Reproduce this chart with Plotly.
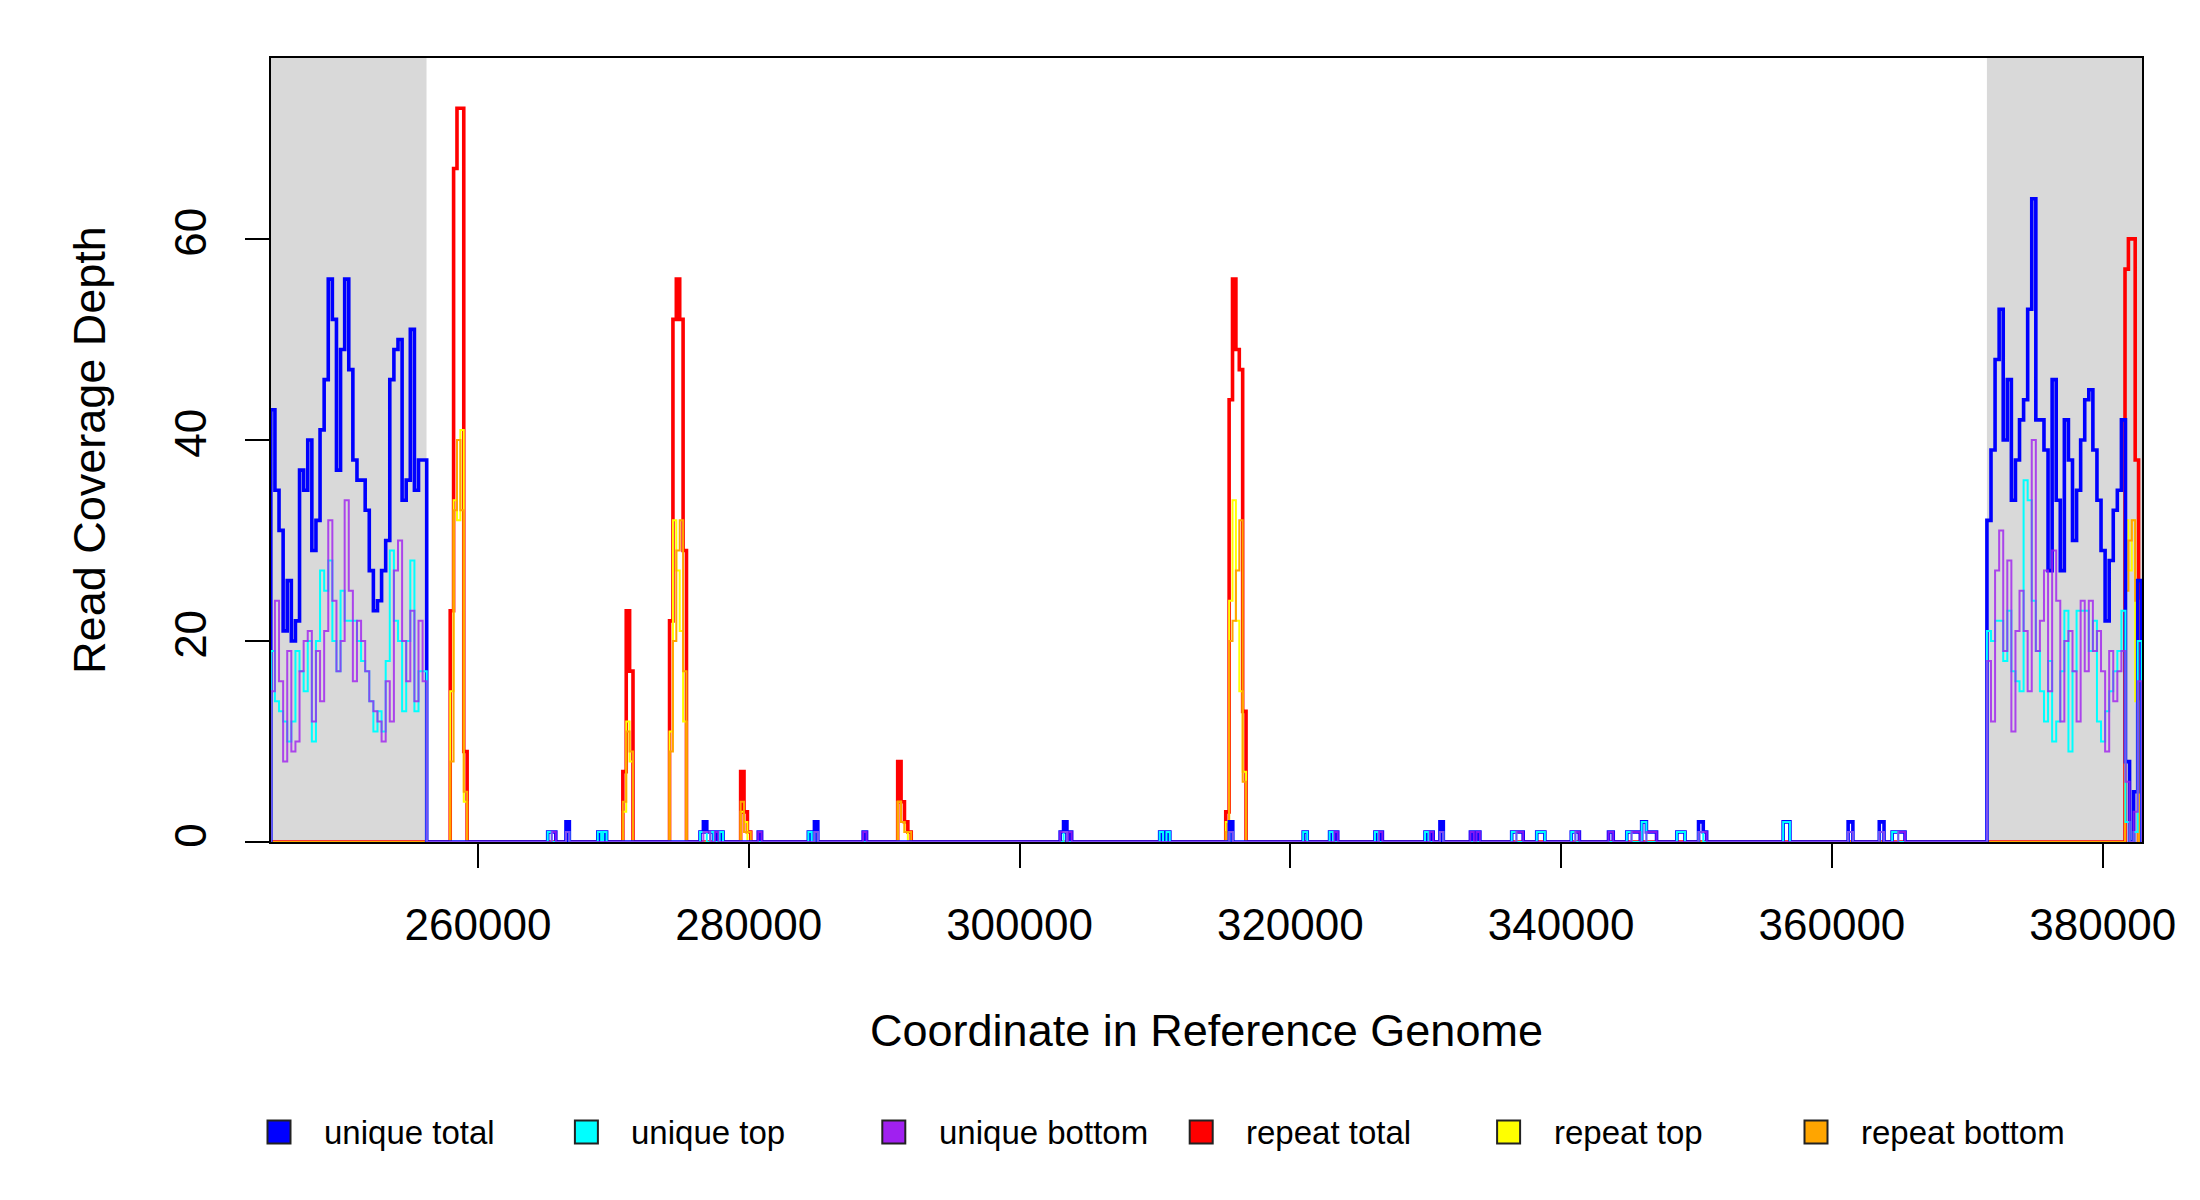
import plotly.graph_objects as go

# flanking regions (shaded), coverage on a fixed grid of bins
LEFT_START, LEFT_BIN = 244700, 303
RIGHT_START, RIGHT_BIN = 371450, 301
X_RANGE = [244713, 382904]
SHADED = [(244700, 256200), (371450, 382904)]

left_unique_total = [43, 35, 31, 21, 26, 20, 22, 37, 35, 40, 29, 32, 41, 46, 56, 52, 37, 49, 56, 47,
                     38, 36, 36, 33, 27, 23, 24, 27, 30, 46, 49, 50, 34, 36, 51, 35, 38, 38]
left_unique_top = [19, 14, 13, 12, 10, 12, 19, 17, 15, 20, 10, 20, 27, 25, 28, 20, 17, 25, 22, 22,
                   22, 20, 18, 17, 14, 11, 13, 11, 18, 29, 22, 20, 13, 20, 28, 13, 17, 17]
left_unique_bottom = [15, 24, 16, 8, 19, 9, 10, 17, 20, 21, 12, 19, 14, 21, 32, 24, 17, 20, 34, 25,
                      16, 22, 20, 17, 14, 13, 12, 10, 16, 12, 27, 30, 20, 16, 23, 14, 22, 16]

right_unique_total = [32, 39, 48, 53, 40, 46, 34, 38, 42, 44, 53, 64, 42, 42, 39, 27, 46, 34, 27, 42,
                      38, 30, 35, 40, 44, 45, 39, 34, 29, 22, 28, 33, 35, 42, 8, 0, 5, 26]
right_unique_top = [21, 20, 22, 22, 18, 23, 17, 16, 15, 36, 34, 24, 19, 15, 12, 18, 10, 12, 17, 23,
                    9, 17, 23, 23, 23, 19, 22, 12, 10, 13, 15, 17, 19, 23, 2, 0, 1, 20]
right_unique_bottom = [18, 12, 27, 31, 19, 28, 11, 21, 25, 21, 15, 40, 19, 22, 27, 15, 29, 24, 12, 20,
                       21, 17, 12, 24, 17, 24, 19, 21, 17, 9, 19, 14, 17, 19, 6, 0, 3, 16]

# repeat coverage peaks: (start, end) span split into equal bins
repeat_spans = [(257950, 259200), (270700, 271450), (274150, 275400), (279400, 280150),
                (291000, 292000), (315230, 316730), (381650, 382650)]
repeat_total = [[23, 67, 73, 73, 9], [7, 23, 17], [22, 52, 56, 52, 29], [7, 3, 1],
                [8, 4, 2, 1], [3, 44, 56, 49, 47, 13], [57, 60, 60, 38]]
repeat_top = [[15, 34, 32, 41, 4], [3, 12, 8], [11, 32, 27, 21, 12], [3, 2, 0],
              [4, 2, 1, 0], [2, 24, 34, 22, 15, 7], [32, 27, 32, 14]]
repeat_bottom = [[8, 33, 40, 33, 5], [4, 11, 9], [9, 20, 29, 32, 17], [4, 1, 1],
                 [4, 2, 1, 1], [1, 20, 22, 27, 32, 6], [25, 30, 32, 24]]

# sparse unique reads between the flanks: (start, end, total, top, bottom)
mid_unique = [
    (265150, 265450, 1, 1, 0), (265450, 265750, 1, 0, 1), (266500, 266750, 2, 1, 1),
    (268850, 269100, 1, 1, 0), (269250, 269500, 1, 1, 0),
    (276400, 276650, 1, 1, 0), (276650, 276900, 2, 1, 1), (276900, 277150, 1, 0, 1),
    (277150, 277400, 1, 1, 0), (277500, 277750, 1, 0, 1), (277850, 278100, 1, 1, 0),
    (280700, 280950, 1, 0, 1), (284400, 284650, 1, 1, 0), (284850, 285100, 2, 1, 1),
    (288450, 288700, 1, 0, 1),
    (303000, 303250, 1, 0, 1), (303250, 303500, 2, 1, 1), (303600, 303850, 1, 0, 1),
    (310350, 310600, 1, 1, 0), (310850, 311100, 1, 1, 0), (315500, 315750, 2, 1, 1),
    (320950, 321250, 1, 1, 0), (322900, 323150, 1, 1, 0), (323250, 323500, 1, 0, 1),
    (326250, 326500, 1, 1, 0), (326550, 326800, 1, 0, 1),
    (329950, 330200, 1, 1, 0), (330300, 330550, 1, 0, 1), (331050, 331300, 2, 1, 1),
    (333300, 333550, 1, 0, 1), (333750, 334000, 1, 0, 1),
    (336350, 336700, 1, 1, 0), (336700, 337200, 1, 0, 1), (338200, 338800, 1, 1, 0),
    (340750, 341050, 1, 1, 0), (341050, 341350, 1, 0, 1), (343500, 343850, 1, 0, 1),
    (344850, 345200, 1, 1, 0), (345200, 345850, 1, 0, 1), (345950, 346300, 2, 2, 0),
    (346300, 347050, 1, 0, 1), (348550, 349150, 1, 1, 0),
    (350150, 350500, 2, 1, 1), (350500, 350750, 1, 0, 1), (356400, 356900, 2, 2, 0),
    (361200, 361550, 2, 1, 1), (363500, 363850, 2, 1, 1),
    (364450, 364900, 1, 1, 0), (364900, 365400, 1, 0, 1),
]

labels = ['unique total', 'unique top', 'unique bottom', 'repeat total', 'repeat top', 'repeat bottom']
colors = ['#0000FF', '#00FFFF', '#A020F0', '#FF0000', '#FFFF00', '#FFA500']


def grid(start, width, values):
    return [(start + i * width, start + (i + 1) * width, v) for i, v in enumerate(values)]


def spikes(spans, values):
    out = []
    for (s, e), vals in zip(spans, values):
        w = (e - s) / len(vals)
        out += [(s + i * w, s + (i + 1) * w, v) for i, v in enumerate(vals)]
    return out


def step_points(intervals, x0, x1):
    # coverage "bedgraph" -> points for an hv step line
    pts = [(x0, 0)]
    for s, e, v in sorted(intervals):
        if pts[-1][0] == s:
            pts[-1] = (s, v)
        else:
            pts.append((s, v))
        pts.append((e, 0))
    if pts[-1][0] < x1:
        pts.append((x1, 0))
    return [p[0] for p in pts], [p[1] for p in pts]


series = {
    'unique total': grid(LEFT_START, LEFT_BIN, left_unique_total)
    + [(s, e, t) for s, e, t, a, b in mid_unique if t]
    + grid(RIGHT_START, RIGHT_BIN, right_unique_total),
    'unique top': grid(LEFT_START, LEFT_BIN, left_unique_top)
    + [(s, e, a) for s, e, t, a, b in mid_unique if a]
    + grid(RIGHT_START, RIGHT_BIN, right_unique_top),
    'unique bottom': grid(LEFT_START, LEFT_BIN, left_unique_bottom)
    + [(s, e, b) for s, e, t, a, b in mid_unique if b]
    + grid(RIGHT_START, RIGHT_BIN, right_unique_bottom),
    'repeat total': spikes(repeat_spans, repeat_total),
    'repeat top': spikes(repeat_spans, repeat_top),
    'repeat bottom': spikes(repeat_spans, repeat_bottom),
}

widths = {'unique total': 3.6, 'repeat total': 3.6}
opac = {'unique bottom': 0.8}

fig = go.Figure()

# repeats first, unique drawn on top
for name in ['repeat total', 'repeat top', 'repeat bottom', 'unique total', 'unique top', 'unique bottom']:
    xs, ys = step_points(series[name], X_RANGE[0] - 100, X_RANGE[1] + 100)
    c = colors[labels.index(name)]
    fig.add_trace(go.Scatter(x=xs, y=ys, mode='lines', name=name,
                             line=dict(color=c, width=widths.get(name, 2.0), shape='hv'),
                             opacity=opac.get(name, 1.0), showlegend=False, hoverinfo='skip'))

for x0, x1 in SHADED:
    fig.add_shape(type='rect', xref='x', yref='paper', x0=x0, x1=x1, y0=0, y1=1,
                  fillcolor='#D9D9D9', line_width=0, layer='below')

# page offset of the plot area: the html body adds 8px around the figure
PAD = 8
ML, MR, MT, MB = 263, 58, 50, 358
W, H = 2200 - PAD, 1200 - PAD
plot_w, plot_h = W - ML - MR, H - MT - MB

# boxed legend row under the plot, like base R legend(horiz=TRUE)
leg_x, leg_step, leg_y, box = 279 - PAD - ML, 307.4, 1132 - PAD - MT, 23
for i, (name, c) in enumerate(zip(labels, colors)):
    cx = leg_x + i * leg_step
    fig.add_shape(type='rect', xref='paper', yref='paper',
                  x0=(cx - box / 2) / plot_w, x1=(cx + box / 2) / plot_w,
                  y0=1 - (leg_y + box / 2) / plot_h, y1=1 - (leg_y - box / 2) / plot_h,
                  fillcolor=c, line=dict(color='#222222', width=2))
    fig.add_annotation(xref='paper', yref='paper', x=(cx + 43) / plot_w, y=1 - leg_y / plot_h,
                       text=name, showarrow=False, xanchor='left', yanchor='middle',
                       font=dict(size=33, color='black'))

font = 'Liberation Sans, Arial, sans-serif'
fig.update_layout(
    width=W, height=H,
    margin=dict(l=ML, r=MR, t=MT, b=MB, autoexpand=False),
    plot_bgcolor='white', paper_bgcolor='white',
    font=dict(family=font, size=44, color='black'),
    showlegend=False,
)
fig.update_xaxes(range=X_RANGE, tickvals=list(range(260000, 380001, 20000)), tickformat='d',
                 showgrid=False, zeroline=False, showline=True, mirror=True, linecolor='black', linewidth=2,
                 ticks='outside', ticklen=24, tickwidth=2, tickcolor='black', ticklabelstandoff=19,
                 title=dict(text='Coordinate in Reference Genome', standoff=67, font=dict(size=45)))
fig.update_yaxes(range=[0, 78], tickvals=[0, 20, 40, 60], tickangle=-90,
                 showgrid=False, zeroline=False, showline=True, mirror=True, linecolor='black', linewidth=2,
                 ticks='outside', ticklen=24, tickwidth=2, tickcolor='black', ticklabelstandoff=21,
                 title=dict(text='Read Coverage Depth', standoff=47, font=dict(size=45)))

fig.write_html('out.html')
